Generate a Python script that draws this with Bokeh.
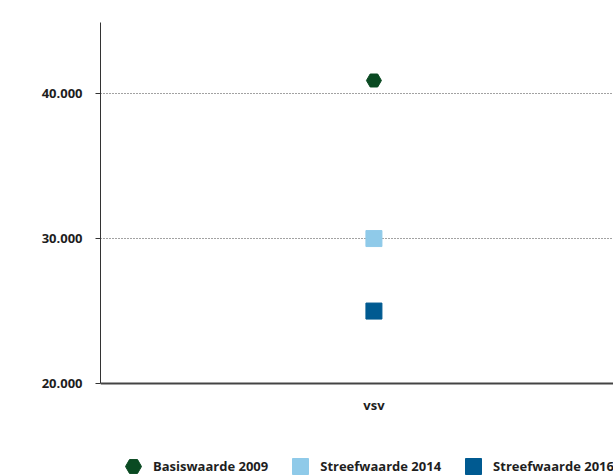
from bokeh.plotting import figure
from bokeh.models import Range1d, FixedTicker, Legend, LegendItem, Span, ColumnDataSource
from bokeh.core.properties import value
from bokeh.embed import file_html
from bokeh.resources import INLINE

# ---- data ----
categories = ["vsv"]
series_names = ["Basiswaarde 2009", "Streefwaarde 2014", "Streefwaarde 2016"]
basis_2009 = [40900]
streef_2014 = [30000]
streef_2016 = [25000]
y_ticks = [20000, 30000, 40000]
y_tick_labels = ["20.000", "30.000", "40.000"]

FONT = "Open Sans"
TEXT = "#1e1e1e"
AXIS = "#333333"

Y_MIN = y_ticks[0]
Y_TOP = 44900
Y_BOTTOM = 13590   # extra room below the axis for the category label and legend

p = figure(width=613, height=476, output_backend="svg", toolbar_location=None,
           x_range=Range1d(-0.533, 0.467), y_range=Range1d(Y_BOTTOM, Y_TOP),
           x_axis_location=None,
           min_border_left=100, min_border_right=0, min_border_top=22,
           min_border_bottom=0)
p.outline_line_color = None
p.background_fill_color = "white"
p.border_fill_color = "white"

xs = list(range(len(categories)))
r1 = p.scatter(xs, basis_2009, marker="hex", size=15, color="#0a4a22")
r2 = p.scatter(xs, streef_2014, marker="square", size=16, color="#8fcae9")
r3 = p.scatter(xs, streef_2016, marker="square", size=16, color="#005a91")

# category axis: baseline line + category label
p.add_layout(Span(location=Y_MIN, dimension="width", line_color="#444444", line_width=2))
cat_src = ColumnDataSource(dict(x=xs, y=[Y_MIN] * len(xs), label=categories))
p.text(x="x", y="y", text="label", source=cat_src, y_offset=21,
       text_align="center", text_baseline="middle",
       text_font=value(FONT), text_font_style="bold", text_font_size="13px",
       text_color=TEXT)

# y axis
p.yaxis.bounds = (Y_MIN, Y_TOP)
p.yaxis.ticker = FixedTicker(ticks=y_ticks)
p.yaxis.major_label_overrides = {t: l for t, l in zip(y_ticks, y_tick_labels)}
p.yaxis.axis_line_color = AXIS
p.yaxis.axis_line_width = 1
p.yaxis.major_tick_out = 5
p.yaxis.major_tick_in = 0
p.yaxis.major_tick_line_color = AXIS
p.yaxis.minor_tick_out = 0
p.yaxis.minor_tick_in = 0
p.yaxis.major_label_standoff = 13
p.yaxis.major_label_text_font = FONT
p.yaxis.major_label_text_font_style = "bold"
p.yaxis.major_label_text_font_size = "13px"
p.yaxis.major_label_text_color = TEXT

# grid
p.xgrid.visible = False
p.ygrid.ticker = FixedTicker(ticks=y_ticks[1:])
p.ygrid.grid_line_color = "#444444"
p.ygrid.grid_line_dash = "1 2"
p.ygrid.grid_line_width = 1

legend = Legend(
    items=[LegendItem(label=n, renderers=[r]) for n, r in zip(series_names, [r1, r2, r3])],
    orientation="horizontal",
    location=(13, -10),
    glyph_width=40, glyph_height=40,
    label_standoff=-3, spacing=12, padding=0, margin=0,
    border_line_color=None, background_fill_alpha=0,
    label_text_font=FONT, label_text_font_style="bold",
    label_text_font_size="13px", label_text_color=TEXT,
)
p.add_layout(legend, "center")

open("out.html", "w").write(file_html(p, INLINE))
